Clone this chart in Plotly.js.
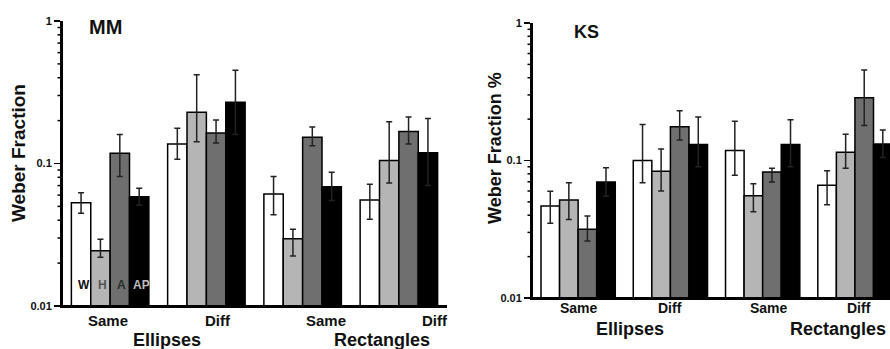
<!DOCTYPE html>
<html>
<head>
<meta charset="utf-8">
<script src="https://cdn.plot.ly/plotly-3.0.1.min.js"></script>
<style>html,body{margin:0;padding:0;background:#fff;}#chart{width:890px;height:349px;}</style>
</head>
<body>
<div id="chart"></div>
<script>
// Categories (Ellipses Same, Ellipses Diff, Rectangles Same, Rectangles Diff)
const categories = ['E-Same', 'E-Diff', 'R-Same', 'R-Diff'];
const seriesNames = ['W', 'H', 'A', 'AP'];
const tickLabelsSD = ['Same', 'Diff', 'Same', 'Diff'];

// MM panel: means and error limits
const mmW = [0.053, 0.137, 0.061, 0.0555];
const mmWHi = [0.0624, 0.177, 0.081, 0.0715];
const mmWLo = [0.0447, 0.107, 0.0437, 0.0406];
const mmH = [0.0244, 0.229, 0.0297, 0.105];
const mmHHi = [0.0294, 0.42, 0.0345, 0.196];
const mmHLo = [0.022, 0.142, 0.0224, 0.073];
const mmA = [0.118, 0.164, 0.153, 0.168];
const mmAHi = [0.160, 0.202, 0.180, 0.212];
const mmALo = [0.081, 0.139, 0.133, 0.137];
const mmAP = [0.0585, 0.269, 0.0687, 0.119];
const mmAPHi = [0.067, 0.451, 0.0867, 0.207];
const mmAPLo = [0.051, 0.16, 0.055, 0.07];

// KS panel
const ksW = [0.0467, 0.100, 0.118, 0.066];
const ksWHi = [0.0597, 0.183, 0.193, 0.0843];
const ksWLo = [0.0349, 0.069, 0.078, 0.0477];
const ksH = [0.0516, 0.0834, 0.0555, 0.115];
const ksHHi = [0.069, 0.121, 0.0678, 0.155];
const ksHLo = [0.0373, 0.060, 0.0424, 0.0877];
const ksA = [0.0316, 0.176, 0.0825, 0.286];
const ksAHi = [0.0395, 0.230, 0.088, 0.455];
const ksALo = [0.026, 0.141, 0.0698, 0.180];
const ksAP = [0.0698, 0.131, 0.131, 0.132];
const ksAPHi = [0.0887, 0.207, 0.198, 0.167];
const ksAPLo = [0.055, 0.09, 0.09, 0.105];

const yTickVals = [0.01, 0.1, 1];
const yTickText = ['0.01', '0.1', '1'];
const minorVals = [0.02,0.03,0.04,0.05,0.06,0.07,0.08,0.09,0.2,0.3,0.4,0.5,0.6,0.7,0.8,0.9];

const fills = ['#ffffff', '#b5b5b5', '#6f6f6f', '#000000'];
const labelColors = ['#111111', '#555555', '#2a2a2a', '#bdbdbd'];
const FONT = '"Liberation Sans", Arial, sans-serif';

function mkTrace(y, hi, lo, i, xa, ya) {
  return {
    type: 'bar', x: categories, y: y, name: seriesNames[i],
    xaxis: xa, yaxis: ya, showlegend: false,
    marker: {color: fills[i], line: {color: '#000', width: 1.5}},
    error_y: {type: 'data', symmetric: false,
      array: y.map((v, k) => hi[k] - v),
      arrayminus: y.map((v, k) => v - lo[k]),
      color: '#222', thickness: 1.5, width: 3},
    hoverinfo: 'none'
  };
}

const mm = [[mmW, mmWHi, mmWLo], [mmH, mmHHi, mmHLo], [mmA, mmAHi, mmALo], [mmAP, mmAPHi, mmAPLo]];
const ks = [[ksW, ksWHi, ksWLo], [ksH, ksHHi, ksHLo], [ksA, ksAHi, ksALo], [ksAP, ksAPHi, ksAPLo]];
const data = [];
mm.forEach((s, i) => data.push(mkTrace(s[0], s[1], s[2], i, 'x', 'y')));
ks.forEach((s, i) => data.push(mkTrace(s[0], s[1], s[2], i, 'x2', 'y2')));

const W = 890, H = 349;
const px = x => x / W, py = y => 1 - y / H;
const LX = 62, RX = 532;

function yax(d0, d1, anchor) {
  return {
    type: 'log', range: [-2, 0], domain: [d0, d1], anchor: anchor,
    tickmode: 'array', tickvals: yTickVals, ticktext: yTickText,
    ticks: 'outside', ticklen: 6, tickwidth: 1.8, tickcolor: '#000',
    showline: true, linecolor: '#000', linewidth: 2, showgrid: false, zeroline: false,
    tickfont: {family: FONT, size: 11, color: '#111', weight: 'bold'}
  };
}
function xax(d0, d1, anchor, r) {
  return {
    type: 'category', domain: [d0, d1], anchor: anchor, range: r,
    showticklabels: false, ticks: '', showline: true, linecolor: '#000', linewidth: 2,
    showgrid: false, zeroline: false
  };
}

// Minor tick marks on the log axes, positioned through the y scales
const shapes = [];
[['y', LX], ['y2', RX]].forEach(([ya, ax]) => {
  minorVals.forEach(v => shapes.push({type: 'line', xref: 'paper', yref: ya, layer: 'above',
    x0: px(ax - 4.5), x1: px(ax), y0: v, y1: v, line: {color: '#000', width: 1.5}}));
});
// Axis frame lines (left + bottom) reinforced as shapes
[[LX, 447, 21, 306], [RX, 890, 23, 298]].forEach(([x0, x1, yt, yb]) => {
  shapes.push({type: 'line', xref: 'paper', yref: 'paper', layer: 'above',
    x0: px(x0), x1: px(x0), y0: py(yb), y1: py(yt), line: {color: '#000', width: 2}});
  shapes.push({type: 'line', xref: 'paper', yref: 'paper', layer: 'above',
    x0: px(x0), x1: px(x1), y0: py(yb), y1: py(yb), line: {color: '#000', width: 2}});
});

const ann = [];
function txt(t, x, y, size, opts) {
  ann.push(Object.assign({text: t, x: px(x), y: py(y), xref: 'paper', yref: 'paper',
    showarrow: false, xanchor: 'center', yanchor: 'middle',
    font: {family: FONT, size: size, color: '#111', weight: 'bold'}}, opts || {}));
}
// Left panel labels
const lSD = [108, 218, 326, 435];
tickLabelsSD.forEach((t, i) => txt(t, lSD[i], 320, 15));
txt('Ellipses', 167, 340, 18);
txt('Rectangles', 382, 340, 18);
txt('MM', 105, 27, 20);
txt('Weber Fraction', 18, 153, 19, {textangle: -90});
// Bar key letters inside the first group
const keyX = [83.5, 102.5, 121.5, 141];
seriesNames.forEach((n, i) => ann.push({text: n, x: px(keyX[i]), y: py(285), xref: 'paper', yref: 'paper',
  showarrow: false, xanchor: 'center', yanchor: 'middle',
  font: {family: FONT, size: 12, color: labelColors[i], weight: 'bold'}}));
// Right panel labels
const rSD = [579, 670, 769, 859];
tickLabelsSD.forEach((t, i) => txt(t, rSD[i], 308, 14));
txt('Ellipses', 630, 329, 18);
txt('Rectangles', 838, 329, 18);
txt('KS', 586, 32, 18);
txt('Weber Fraction %', 495, 148, 18, {textangle: -90});

const layout = {
  width: W, height: H, margin: {l: 0, r: 0, t: 0, b: 0},
  paper_bgcolor: '#fff', plot_bgcolor: '#fff',
  barmode: 'group', bargap: 0.195, bargroupgap: 0,
  font: {family: FONT},
  xaxis: xax(px(LX), px(447), 'y', [-0.5, 3.5]),
  yaxis: yax(py(306), py(21), 'x'),
  xaxis2: xax(px(RX), 1, 'y2', [-0.5, 3.38]),
  yaxis2: yax(py(298), py(23), 'x2'),
  shapes: shapes,
  annotations: ann
};

Plotly.newPlot('chart', data, layout, {staticPlot: true, displayModeBar: false});
</script>
</body>
</html>
